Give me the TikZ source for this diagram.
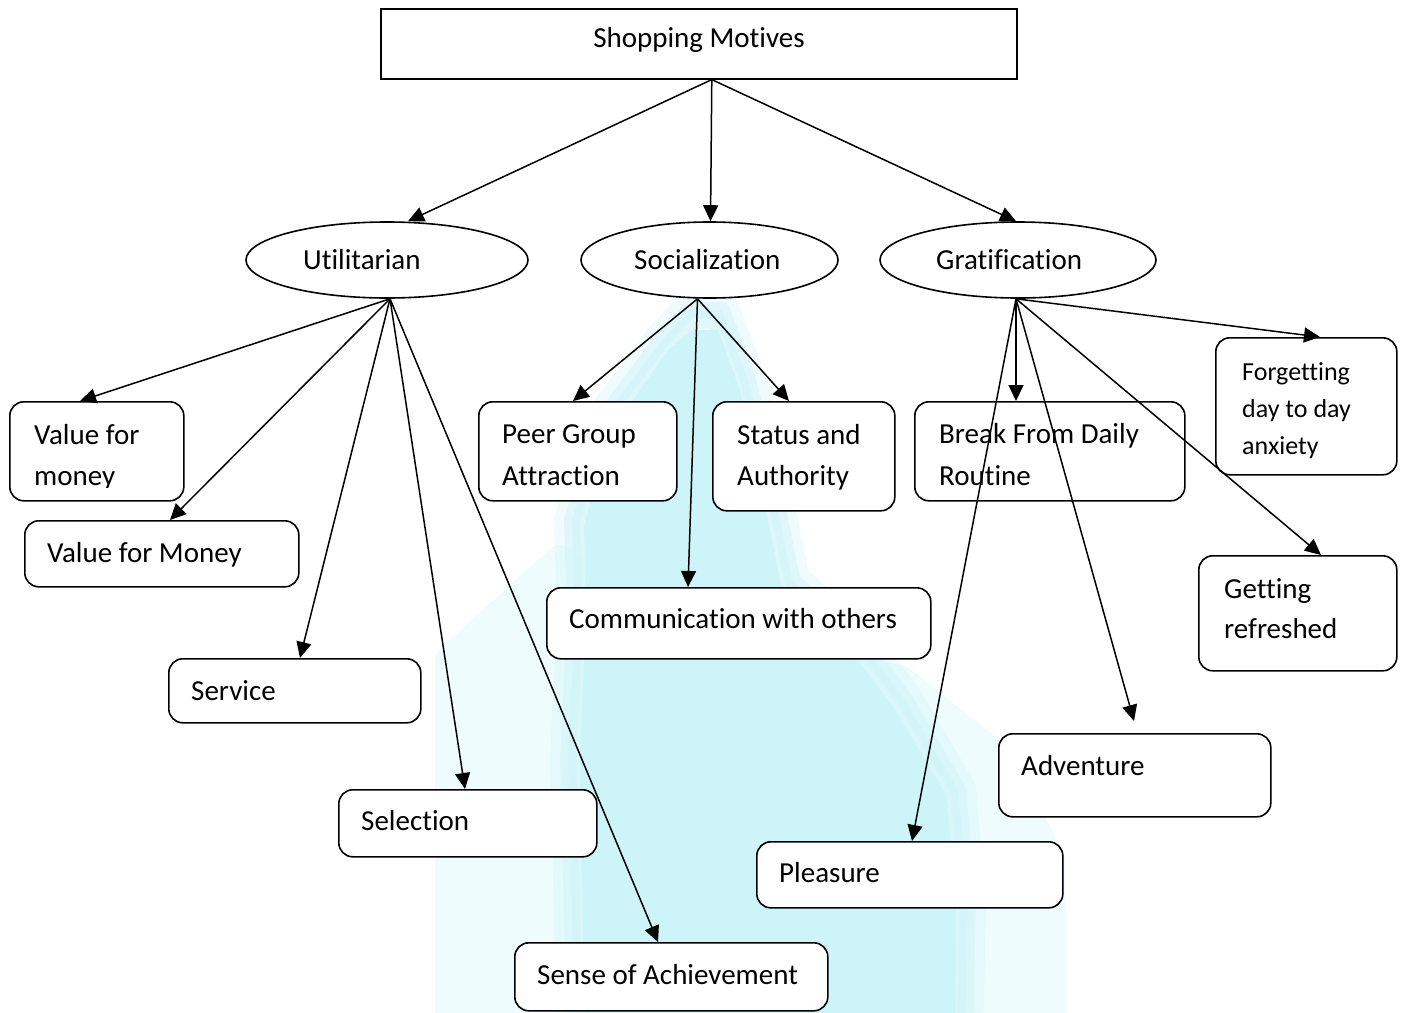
\documentclass[tikz,border=0pt]{standalone}
\usepackage{fontspec}
\setmainfont{Carlito}[Ligatures={NoCommon,NoContextual,NoRequired},RawFeature={-liga;-clig;-dlig}]
\usetikzlibrary{arrows.meta,shapes.geometric}
\definecolor{washout}{HTML}{EEFCFD}
\definecolor{washin}{HTML}{CDF4F9}
\begin{document}
\begin{tikzpicture}[x=1pt,y=-1pt,
  box/.style={draw,fill=white,line width=1.6pt,rounded corners=14pt,anchor=north west,inner sep=0pt},
  headbox/.style={draw,fill=white,line width=1.6pt,anchor=north west,inner sep=0pt},
  oval/.style={draw,fill=white,ellipse,line width=1.6pt,inner sep=0pt,minimum height=76pt},
  txt/.style={anchor=base west,inner sep=0pt,font=\fontsize{29}{35}\selectfont},
  small/.style={anchor=base west,inner sep=0pt,font=\fontsize{26}{31}\selectfont},
  link/.style={line width=1.5pt,-{Triangle[length=16pt,width=15pt]}},
  soft/.style={line join=round,line cap=round}]
\useasboundingbox (0,0) rectangle (1404,1012);
\fill[white] (0,0) rectangle (1404,1012);

% pale backdrop with soft edges
\begin{scope}
  \clip (0,0) rectangle (1404,1012);
  \path[soft,fill=washout,draw=washout,line width=30pt]
    (560,560) -- (620,600) -- (700,640) -- (900,680) -- (1000,760) -- (1050,860)
    -- (1050,1040) -- (450,1040) -- (450,660) -- cycle;
  \path[soft,draw=washin,opacity=0.3,line width=36pt]
    (690,310) -- (722,310) -- (748,380) -- (772,480) -- (792,580) -- (860,640)
    -- (905,700) -- (958,790) -- (968,900) -- (965,1040) -- (575,1040)
    -- (568,760) -- (575,620) -- (572,520) -- (602,420) -- (662,340) -- cycle;
  \path[soft,fill=washin,draw=washin,opacity=0.45,line width=16pt]
    (690,310) -- (722,310) -- (748,380) -- (772,480) -- (792,580) -- (860,640)
    -- (905,700) -- (958,790) -- (968,900) -- (965,1040) -- (575,1040)
    -- (568,760) -- (575,620) -- (572,520) -- (602,420) -- (662,340) -- cycle;
  \fill[washin]
    (692,330) -- (718,330) -- (740,390) -- (762,490) -- (782,590) -- (850,650)
    -- (895,710) -- (946,795) -- (956,900) -- (955,1040) -- (585,1040)
    -- (580,760) -- (586,620) -- (584,525) -- (612,430) -- (668,350) -- cycle;
\end{scope}

% root
\node[headbox,minimum width=636pt,minimum height=70pt] (root) at (380,8) {};
\node[anchor=base,inner sep=0pt,font=\fontsize{29}{35}\selectfont] (roott) at (699,47) {Shopping Motives};

% categories
\node[oval,minimum width=282pt] (util) at (387,260) {};
\node[oval,minimum width=257pt] (soc) at (709.5,260) {};
\node[oval,minimum width=276pt] (grat) at (1018,260) {};
\node[txt] (utilt) at (303,269) {Utilitarian};
\node[txt] (soct) at (634,269) {Socialization};
\node[txt] (gratt) at (936,269) {Gratification};

% utilitarian motives
\node[box,minimum width=174pt,minimum height=99pt] (vfm) at (9,401) {};
\node[txt] (vfma) at (34,444) {Value for};
\begin{scope}
  \clip (20,450) rectangle (180,487);
  \node[txt] (vfmb) at (34,485) {money};
\end{scope}
\node[box,minimum width=274pt,minimum height=66pt] (vfM) at (24,520) {};
\node[txt] (vfMt) at (47,562) {Value for Money};
\node[box,minimum width=252pt,minimum height=64pt] (serv) at (168,658) {};
\node[txt] (servt) at (191,700) {Service};
\node[box,minimum width=258pt,minimum height=67pt] (sel) at (338,789) {};
\node[txt] (selt) at (361,830) {Selection};
\node[box,minimum width=313pt,minimum height=68pt] (sense) at (514,942) {};
\node[txt] (senset) at (537,984) {Sense of Achievement};

% socialization motives
\node[box,minimum width=198pt,minimum height=99pt] (peer) at (478,401) {};
\node[txt] (peera) at (502,443) {Peer Group};
\node[txt] (peerb) at (502,485) {Attraction};
\node[box,minimum width=182pt,minimum height=109pt] (stat) at (712,401) {};
\node[txt] (stata) at (737,444) {Status and};
\node[txt] (statb) at (737,485) {Authority};
\node[box,minimum width=384pt,minimum height=71pt] (comm) at (546,587) {};
\node[txt] (commt) at (569,628) {Communication with others};

% gratification motives
\node[box,minimum width=270pt,minimum height=99pt] (brk) at (914,401) {};
\node[txt] (brka) at (939,443) {Break From Daily};
\node[txt] (brkb) at (939,485) {Routine};
\node[box,minimum width=181pt,minimum height=137pt] (forg) at (1215,337) {};
\node[small] (forga) at (1242,380) {Forgetting};
\node[small] (forgb) at (1242,417) {day to day};
\node[small] (forgc) at (1242,454) {anxiety};
\node[box,minimum width=198pt,minimum height=115pt] (getr) at (1198,555) {};
\node[txt] (getra) at (1224,598) {Getting};
\node[txt] (getrb) at (1224,638) {refreshed};
\node[box,minimum width=272pt,minimum height=83pt] (adv) at (998,733) {};
\node[txt] (advt) at (1021,775) {Adventure};
\node[box,minimum width=306pt,minimum height=66pt] (pleas) at (756,841) {};
\node[txt] (pleast) at (779,882) {Pleasure};

% connectors
\draw[link] ([xshift=13pt]root.south) -- ([xshift=21pt]util.north);
\draw[link] ([xshift=13pt]root.south) -- ([xshift=1pt]soc.north);
\draw[link] ([xshift=13pt]root.south) -- ([xshift=-2pt]grat.north);

\draw[link] ([xshift=3pt]util.south) -- ([xshift=71pt]vfm.north west);
\draw[link] ([xshift=3pt]util.south) -- ([xshift=146pt]vfM.north west);
\draw[link] ([xshift=3pt]util.south) -- ([xshift=132pt]serv.north west);
\draw[link] ([xshift=3pt]util.south) -- ([xshift=127pt]sel.north west);
\draw[link] ([xshift=3pt]util.south) -- ([xshift=144pt]sense.north west);

\draw[link] ([xshift=-12pt]soc.south) -- ([xshift=95pt]peer.north west);
\draw[link] ([xshift=-12pt]soc.south) -- ([xshift=77pt]stat.north west);
\draw[link] ([xshift=-12pt]soc.south) -- ([xshift=142pt]comm.north west);

\draw[link] ([xshift=-2pt]grat.south) -- ([xshift=102pt]brk.north west);
\draw[link] ([xshift=-2pt]grat.south) -- ([xshift=105pt]forg.north west);
\draw[link] ([xshift=-2pt]grat.south) -- ([xshift=123pt]getr.north west);
\draw[link] ([xshift=-2pt]grat.south) -- ([xshift=136pt,yshift=12pt]adv.north west);
\draw[link] ([xshift=-2pt]grat.south) -- ([xshift=156pt]pleas.north west);
\end{tikzpicture}
\end{document}
